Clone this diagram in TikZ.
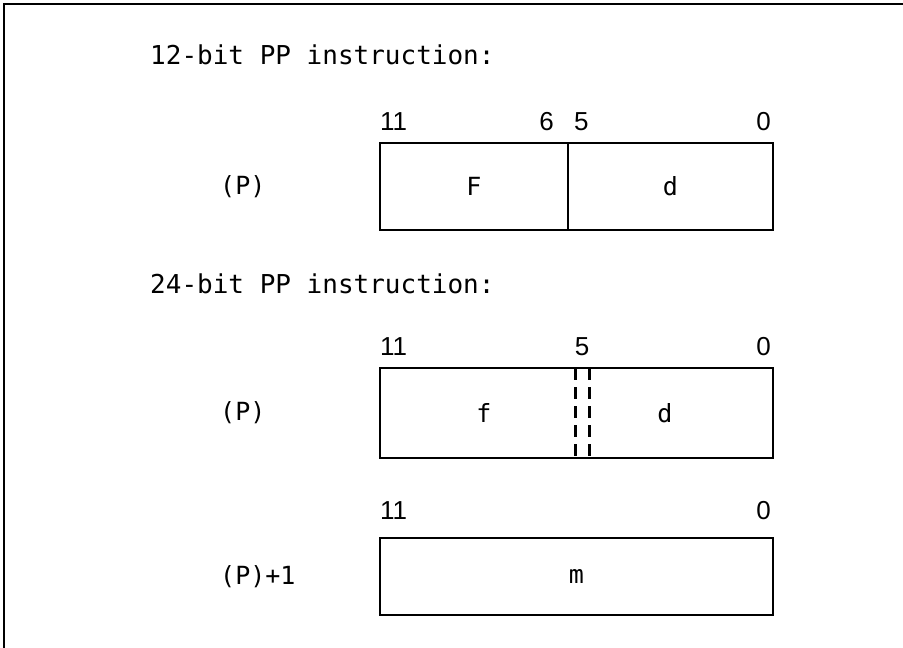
\documentclass[tikz,border=0pt]{standalone}
\usepackage{fontspec}
\setmonofont{DejaVu Sans Mono}
\setsansfont{Liberation Sans}
\begin{document}
\begin{tikzpicture}[x=1pt, y=-1pt,
    field/.style={draw, line width=2.8pt, inner sep=0pt, outer sep=0pt,
      font=\ttfamily\fontsize{25}{28}\selectfont},
    txt/.style={inner sep=0pt, font=\ttfamily\fontsize{25}{28}\selectfont},
    hdr/.style={inner sep=0pt, anchor=west, font=\ttfamily\fontsize{26}{30}\selectfont},
    bit/.style={inner sep=0pt, font=\sffamily\fontsize{26}{30}\selectfont},
    split/.style={line width=3pt, dash pattern=on 12pt off 7pt}]
  \useasboundingbox (0,0) rectangle (903,648);
  \draw[line width=2pt] (4,648) -- (4,4) -- (903,4);

  % 12-bit word
  \node[hdr] (h12) at (150,55) {12-bit PP instruction:};
  \node[field, minimum width=188pt, minimum height=87pt] (F) at (474,186.5) {F};
  \node[field, minimum width=205pt, minimum height=87pt, anchor=west] (d1) at (F.east) {d};
  \node[txt, anchor=west] (p1) at ([xshift=-160pt]F.west) {(P)};
  \node[bit, anchor=base west] (b11) at ([yshift=13pt]F.north west) {11};
  \node[bit, anchor=base east] (b6) at ([xshift=-14pt, yshift=13pt]F.north east) {6};
  \node[bit, anchor=base west] (b5) at ([xshift=6pt, yshift=13pt]d1.north west) {5};
  \node[bit, anchor=base east] (b0) at ([xshift=-2pt, yshift=13pt]d1.north east) {0};

  % 24-bit word, first half
  \node[hdr] (h24) at (150,284) {24-bit PP instruction:};
  \node[field, minimum width=393pt, minimum height=90pt] (w1) at (576.5,413) {};
  \node[txt] (f) at (484,413) {f};
  \node[txt] (d2) at (665,413) {d};
  \foreach \x in {575,589}
    \draw[split] (\x,368) -- (\x,458);
  \node[txt, anchor=west] (p2) at ([xshift=-160pt]w1.west) {(P)};
  \node[bit, anchor=base west] (c11) at ([yshift=13pt]w1.north west) {11};
  \node[bit, anchor=base] (c5) at (582,355) {5};
  \node[bit, anchor=base east] (c0) at ([xshift=-2pt, yshift=13pt]w1.north east) {0};

  % 24-bit word, second half
  \node[field, minimum width=393pt, minimum height=77pt] (w2) at (576.5,576.5) {m};
  \node[txt, anchor=west] (p3) at ([xshift=-160pt]w2.west) {(P)+1};
  \node[bit, anchor=base west] (e11) at ([yshift=19pt]w2.north west) {11};
  \node[bit, anchor=base east] (e0) at ([xshift=-2pt, yshift=19pt]w2.north east) {0};
\end{tikzpicture}
\end{document}
